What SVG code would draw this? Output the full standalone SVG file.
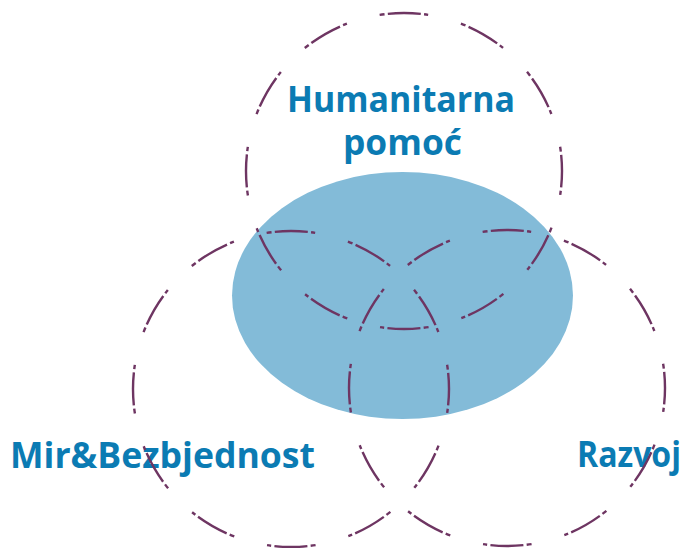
<svg xmlns="http://www.w3.org/2000/svg" width="693" height="548" viewBox="0 0 693 548">
<style>
.ring{fill:none;stroke:#6e3562;stroke-width:2.4;stroke-dasharray:4.96 3.31 33.09 3.31 4.14 33.92;stroke-dashoffset:24.82}
.lbl{font-family:"Open Sans","Liberation Sans",sans-serif;font-weight:bold;font-size:35px;fill:#0b7bb3}
</style>
<rect width="693" height="548" fill="#ffffff"/>
<g id="core"><ellipse cx="402.5" cy="295.5" rx="170.5" ry="123.5" fill="#83bbd8"/></g>
<g id="label-humanitarna">
<text class="lbl" x="401" y="112" text-anchor="middle" textLength="228" lengthAdjust="spacingAndGlyphs">Humanitarna</text>
<text class="lbl" x="402.5" y="155" text-anchor="middle" textLength="119" lengthAdjust="spacingAndGlyphs">pomoć</text>
</g>
<g id="label-mir"><text class="lbl" x="10" y="468" textLength="305" lengthAdjust="spacingAndGlyphs">Mir&amp;Bezbjednost</text></g>
<g id="label-razvoj"><text class="lbl" x="577" y="467" textLength="104" lengthAdjust="spacingAndGlyphs">Razvoj</text></g>
<g id="circles">
<circle id="circle-top" class="ring" cx="404" cy="171" r="158"/>
<circle id="circle-left" class="ring" cx="291" cy="389" r="158"/>
<circle id="circle-right" class="ring" cx="507" cy="388" r="158"/>
</g>
</svg>
